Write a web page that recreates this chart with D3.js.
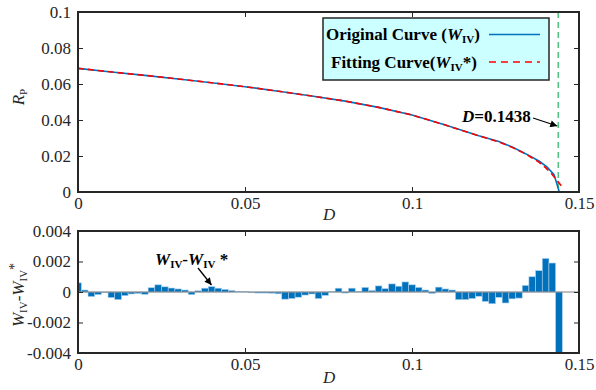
<!DOCTYPE html>
<html>
<head>
<meta charset="utf-8">
<script src="https://cdn.jsdelivr.net/npm/d3@7"></script>
<style>
  body { margin: 0; background: #fff; }
</style>
</head>
<body>
<div id="vis"></div>
<script>
// top panel: R_P against D
var origD = [0, 0.01, 0.02, 0.03, 0.04, 0.05, 0.06, 0.07, 0.08, 0.09, 0.10, 0.11, 0.12, 0.126, 0.13, 0.134, 0.138, 0.1403, 0.1425, 0.1433, 0.1441];
var origR = [0.0687, 0.0667, 0.0648, 0.0628, 0.0607, 0.0585, 0.0560, 0.0533, 0.0505, 0.0470, 0.0428, 0.0372, 0.0312, 0.0280, 0.0250, 0.0213, 0.0172, 0.0141, 0.0098, 0.0050, 0.0];
var fitD = [0, 0.01, 0.02, 0.03, 0.04, 0.05, 0.06, 0.07, 0.08, 0.09, 0.10, 0.11, 0.12, 0.126, 0.13, 0.134, 0.138, 0.140, 0.142, 0.1438, 0.1449];
var fitR = [0.0687, 0.0667, 0.0648, 0.0628, 0.0607, 0.0585, 0.0560, 0.0533, 0.0505, 0.0470, 0.0428, 0.0372, 0.0312, 0.0278, 0.0248, 0.0212, 0.0166, 0.0135, 0.0097, 0.0055, 0.0030];
var limitD = 0.1438;

// bottom panel: W_IV - W_IV* per D step
var errStep = 0.002;
var errVals = [0.0006, 0.00013, -0.0003, -0.00017, -0.00003, -0.00037, -0.0005, -0.00024, -0.00013, -0.0001,
  -0.00015, 0.00028, 0.00047, 0.00034, 0.00026, 0.0002, 0.00013, -0.00017, 0.00008, 0.00025,
  0.00035, 0.00025, 0.00017, 0.0001, 0.00004, 0.00002, -0.00005, -0.00007, -0.00007, -0.00008,
  -0.00012, -0.00047, -0.00043, -0.00034, -0.0002, -0.00013, -0.00043, -0.00022, 0.00002, 0.00025,
  -0.00007, 0.00025, 0.00004, 0.0003, 0.0001, 0.0004, 0.00022, 0.00053, 0.00038, 0.00066,
  0.00047, 0.0003, 0.00013, -0.00009, 0.00032, 0.0002, 0.00013, -0.0005, -0.0005, -0.00043,
  -0.00028, -0.00062, -0.00077, -0.00035, -0.00072, -0.00045, -0.0004, 0.00043, 0.001, 0.0014,
  0.0022, 0.0019, -0.0045];
var errD = errVals.map(function (v, i) { return i * errStep; });

var xTicks = [0, 0.05, 0.1, 0.15];
var topTicks = [0, 0.02, 0.04, 0.06, 0.08, 0.1];
var botTicks = [-0.004, -0.002, 0, 0.002, 0.004];

var width = 596;
var height = 390;
var left = 78, right = 579;
var axisColor = "#262626";
var serif = "'Liberation Serif', 'Times New Roman', serif";

var svg = d3.select("#vis").append("svg")
    .attr("width", width)
    .attr("height", height);

var x = d3.scaleLinear().domain([0, 0.15]).range([left, right]);
var yTop = d3.scaleLinear().domain([0, 0.1]).range([192, 12]);
var yBot = d3.scaleLinear().domain([-0.004, 0.004]).range([353, 231]);

function fmt(v) {
    if (v === 0) return "0";
    return (v < 0 ? "-" : "") + String(Math.abs(v));
}

function drawFrame(y, yTicks, yTop0, yBot0) {
    var g = svg.append("g");
    g.append("g")
        .attr("transform", "translate(0," + yBot0 + ")")
        .call(d3.axisBottom(x).tickValues(xTicks).tickSize(-5).tickPadding(5).tickFormat(fmt));
    g.append("g")
        .attr("transform", "translate(0," + yTop0 + ")")
        .call(d3.axisTop(x).tickValues(xTicks).tickSize(-5).tickFormat(""));
    g.append("g")
        .attr("transform", "translate(" + left + ",0)")
        .call(d3.axisLeft(y).tickValues(yTicks).tickSize(-5).tickPadding(7).tickFormat(fmt));
    g.append("g")
        .attr("transform", "translate(" + right + ",0)")
        .call(d3.axisRight(y).tickValues(yTicks).tickSize(-5).tickFormat(""));
    g.selectAll(".domain").remove();
    g.selectAll(".tick line").attr("stroke", axisColor).attr("stroke-width", 1);
    g.selectAll(".tick text").style("font-size", "17px").style("fill", axisColor);
    g.append("rect")
        .attr("x", left).attr("y", yTop0)
        .attr("width", right - left).attr("height", yBot0 - yTop0)
        .attr("fill", "none").attr("stroke", axisColor).attr("stroke-width", 2);
    return g;
}

// ---------- top panel ----------
svg.append("line")
    .attr("x1", x(limitD)).attr("x2", x(limitD))
    .attr("y1", yTop(0.1)).attr("y2", yTop(0))
    .attr("stroke", "#55c184").attr("stroke-width", 1.6)
    .attr("stroke-dasharray", "6,4");

var line = d3.line().x(function (d) { return x(d[0]); }).y(function (d) { return yTop(d[1]); });

svg.append("path")
    .datum(d3.zip(origD, origR))
    .attr("d", line)
    .attr("fill", "none").attr("stroke", "#0072BD").attr("stroke-width", 1.6);

svg.append("path")
    .datum(d3.zip(fitD, fitR))
    .attr("d", line)
    .attr("fill", "none").attr("stroke", "#ff0000").attr("stroke-width", 1.6)
    .attr("stroke-dasharray", "6,4");

drawFrame(yTop, topTicks, 12, 192);

// legend
var leg = svg.append("g");
leg.append("rect")
    .attr("x", 323).attr("y", 18).attr("width", 226).attr("height", 62)
    .attr("fill", "#ccffff").attr("stroke", axisColor).attr("stroke-width", 1.5);

var t1 = leg.append("text").attr("x", 326).attr("y", 40)
    .attr("font-size", 17).attr("font-weight", "bold").attr("fill", "#000");
t1.append("tspan").text("Original Curve (");
t1.append("tspan").attr("font-style", "italic").text("W");
t1.append("tspan").attr("font-size", 11).attr("dy", 3).text("IV");
t1.append("tspan").attr("dy", -3).text(")");

var t2 = leg.append("text").attr("x", 331).attr("y", 68)
    .attr("font-size", 17).attr("font-weight", "bold").attr("fill", "#000");
t2.append("tspan").text("Fitting Curve(");
t2.append("tspan").attr("font-style", "italic").text("W");
t2.append("tspan").attr("font-size", 11).attr("dy", 3).text("IV");
t2.append("tspan").attr("dy", -3).text("*)");

leg.append("line").attr("x1", 489).attr("x2", 540).attr("y1", 34.5).attr("y2", 34.5)
    .attr("stroke", "#0072BD").attr("stroke-width", 1.6);
leg.append("line").attr("x1", 489).attr("x2", 540).attr("y1", 62).attr("y2", 62)
    .attr("stroke", "#ff0000").attr("stroke-width", 1.6).attr("stroke-dasharray", "7,5");

// D=0.1438 annotation
svg.append("defs").append("marker")
    .attr("id", "arrow").attr("viewBox", "0 0 10 10")
    .attr("refX", 10).attr("refY", 5)
    .attr("markerWidth", 9).attr("markerHeight", 7)
    .attr("markerUnits", "userSpaceOnUse")
    .attr("orient", "auto")
    .append("path").attr("d", "M0,0 L10,5 L0,10 z").attr("fill", "#000");

var ann = svg.append("text").attr("x", 462).attr("y", 122)
    .attr("font-size", 17).attr("font-weight", "bold");
ann.append("tspan").attr("font-style", "italic").text("D");
ann.append("tspan").text("=0.1438");

svg.append("line")
    .attr("x1", 533).attr("y1", 118).attr("x2", x(limitD) - 1).attr("y2", 126)
    .attr("stroke", "#000").attr("stroke-width", 1.3)
    .attr("marker-end", "url(#arrow)");

// axis titles (top)
svg.append("text").attr("x", 323).attr("y", 220)
    .attr("font-size", 17).attr("font-style", "italic").attr("fill", axisColor)
    .text("D");

var ry = svg.append("text")
    .attr("transform", "translate(24,97) rotate(-90)")
    .attr("text-anchor", "middle")
    .attr("font-size", 17).attr("fill", axisColor);
ry.append("tspan").attr("font-style", "italic").text("R");
ry.append("tspan").attr("font-size", 11).attr("dy", 3).text("P");

// ---------- bottom panel ----------
svg.append("clipPath").attr("id", "botClip")
    .append("rect").attr("x", left).attr("y", 231).attr("width", right - left).attr("height", 122);

var bw = x(errStep) - x(0);
svg.append("g").attr("clip-path", "url(#botClip)")
    .selectAll("rect")
    .data(d3.zip(errD, errVals))
    .enter().append("rect")
    .attr("x", function (d) { return x(d[0]) - bw / 2; })
    .attr("width", bw)
    .attr("y", function (d) { return yBot(Math.max(0, d[1])); })
    .attr("height", function (d) { return Math.abs(yBot(d[1]) - yBot(0)); })
    .attr("fill", "#0072BD")
    .attr("stroke", "#a9d0ee").attr("stroke-width", 0.6);

svg.append("line")
    .attr("x1", left).attr("x2", right)
    .attr("y1", yBot(0)).attr("y2", yBot(0))
    .attr("stroke", "#7f7f7f").attr("stroke-width", 1.2);

drawFrame(yBot, botTicks, 231, 353);

var wa = svg.append("text").attr("x", 155).attr("y", 265)
    .attr("font-size", 17).attr("font-weight", "bold");
wa.append("tspan").attr("font-style", "italic").text("W");
wa.append("tspan").attr("font-size", 11).attr("dy", 3).text("IV");
wa.append("tspan").attr("dy", -3).text("-");
wa.append("tspan").attr("font-style", "italic").text("W");
wa.append("tspan").attr("font-size", 11).attr("dy", 3).text("IV");
wa.append("tspan").attr("dy", -3).text(" *");

svg.append("line")
    .attr("x1", 198).attr("y1", 268).attr("x2", 211.5).attr("y2", 285)
    .attr("stroke", "#000").attr("stroke-width", 1.3)
    .attr("marker-end", "url(#arrow)");

svg.append("text").attr("x", 323).attr("y", 383)
    .attr("font-size", 17).attr("font-style", "italic").attr("fill", axisColor)
    .text("D");

var wy = svg.append("text")
    .attr("transform", "translate(24,295) rotate(-90)")
    .attr("text-anchor", "middle")
    .attr("font-size", 17).attr("fill", axisColor);
wy.append("tspan").attr("font-style", "italic").text("W");
wy.append("tspan").attr("font-size", 11).attr("dy", 3).text("IV");
wy.append("tspan").attr("dy", -3).text("-");
wy.append("tspan").attr("font-style", "italic").text("W");
wy.append("tspan").attr("font-size", 11).attr("dy", 3).text("IV");
wy.append("tspan").attr("font-size", 14).attr("dy", -8).text("*");

// one font for every text
svg.selectAll("text").style("font-family", serif);
</script>
</body>
</html>
